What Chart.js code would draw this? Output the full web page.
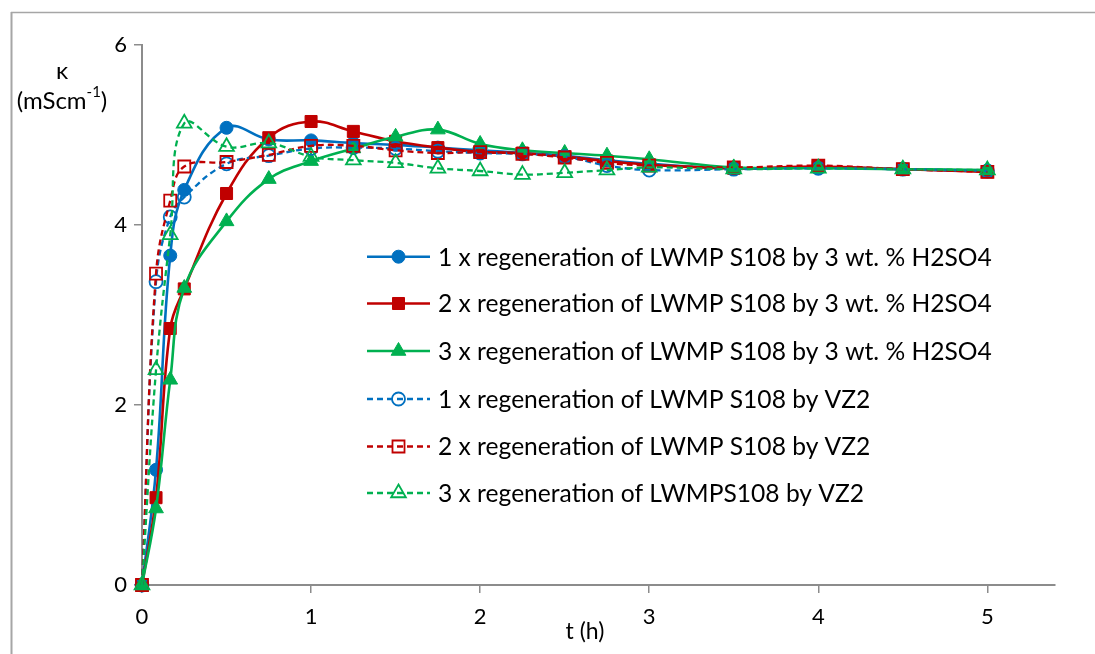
<!DOCTYPE html>
<html>
<head>
<meta charset="utf-8">
<script src="https://cdn.jsdelivr.net/npm/chart.js@4/dist/chart.umd.min.js"></script>
<style>
  html, body { margin: 0; padding: 0; background: #fff; }
  #wrap { position: relative; width: 1095px; height: 654px; }
</style>
</head>
<body>
<div id="wrap"><canvas id="c" width="1095" height="654"></canvas></div>
<script>
// ---- data ----
const times = [0, 0.083, 0.167, 0.25, 0.5, 0.75, 1, 1.25, 1.5, 1.75, 2, 2.25, 2.5, 2.75, 3, 3.5, 4, 4.5, 5];
const h2so4_1x = [0, 1.28, 3.66, 4.39, 5.08, 4.95, 4.94, 4.91, 4.89, 4.86, 4.83, 4.80, 4.77, 4.72, 4.68, 4.63, 4.64, 4.62, 4.60];
const h2so4_2x = [0, 0.97, 2.85, 3.29, 4.35, 4.97, 5.15, 5.04, 4.93, 4.86, 4.81, 4.80, 4.76, 4.71, 4.67, 4.63, 4.65, 4.62, 4.59];
const h2so4_3x = [0, 0.85, 2.28, 3.30, 4.04, 4.51, 4.71, 4.85, 4.98, 5.06, 4.90, 4.83, 4.80, 4.77, 4.73, 4.64, 4.63, 4.62, 4.61];
const vz2_1x   = [0, 3.37, 4.09, 4.31, 4.68, 4.77, 4.85, 4.86, 4.85, 4.82, 4.80, 4.79, 4.76, 4.66, 4.61, 4.62, 4.63, 4.62, 4.60];
const vz2_2x   = [0, 3.46, 4.27, 4.65, 4.70, 4.78, 4.88, 4.88, 4.83, 4.80, 4.81, 4.79, 4.75, 4.69, 4.66, 4.64, 4.66, 4.62, 4.59];
const vz2_3x   = [0, 2.39, 3.89, 5.13, 4.87, 4.91, 4.76, 4.72, 4.69, 4.63, 4.60, 4.56, 4.58, 4.61, 4.64, 4.62, 4.63, 4.62, 4.61];
const seriesNames = [
  '1 x regeneration of LWMP S108 by 3 wt. % H2SO4',
  '2 x regeneration of LWMP S108 by 3 wt. % H2SO4',
  '3 x regeneration of LWMP S108 by 3 wt. % H2SO4',
  '1 x regeneration of LWMP S108 by VZ2',
  '2 x regeneration of LWMP S108 by VZ2',
  '3 x regeneration of LWMPS108 by VZ2'
];
const xTicks = [0, 1, 2, 3, 4, 5];
const yTicks = [0, 2, 4, 6];
const xTitle = 't (h)';
const yTitleTop = 'κ';
const yTitleMain = '(mScm';
const yTitleSup = '-1';
const yTitleEnd = ')';

// ---- styles ----
const BLUE = '#0070C0', RED = '#C00000', GREEN = '#00B050';
const FONT = 'Lato, "Open Sans", sans-serif';
const styles = [
  {color: BLUE,  shape: 'circle',   filled: true,  dash: []},
  {color: RED,   shape: 'rect',     filled: true,  dash: []},
  {color: GREEN, shape: 'triangle', filled: true,  dash: []},
  {color: BLUE,  shape: 'circle',   filled: false, dash: [6, 4]},
  {color: RED,   shape: 'rect',     filled: false, dash: [6, 4]},
  {color: GREEN, shape: 'triangle', filled: false, dash: [6, 4]}
];
const radiusFor = s => s === 'circle' ? 6.5 : (s === 'rect' ? 8.5 : 8.5);
const allSeries = [h2so4_1x, h2so4_2x, h2so4_3x, vz2_1x, vz2_2x, vz2_3x];

const datasets = allSeries.map((vals, i) => {
  const st = styles[i];
  return {
    label: seriesNames[i],
    data: times.map((t, k) => ({x: t, y: vals[k]})),
    borderColor: st.color,
    backgroundColor: st.color,
    borderWidth: st.filled ? 2.6 : 2.3,
    borderDash: st.dash,
    tension: 0.4,
    pointStyle: st.shape,
    pointRadius: radiusFor(st.shape),
    pointBorderWidth: st.filled ? 1 : 1.8,
    pointBackgroundColor: st.filled ? st.color : 'rgba(255,255,255,0)',
    pointBorderColor: st.color,
    clip: false,
    order: 6 - i
  };
});

function drawMarker(ctx, shape, x, y, r, color, filled) {
  ctx.save();
  ctx.setLineDash([]);
  ctx.beginPath();
  if (shape === 'circle') {
    ctx.arc(x, y, r, 0, Math.PI * 2);
  } else if (shape === 'rect') {
    const s = r * Math.SQRT1_2;
    ctx.rect(x - s, y - s, 2 * s, 2 * s);
  } else {
    ctx.moveTo(x, y - r);
    ctx.lineTo(x + r * Math.sin(2 * Math.PI / 3), y - r * Math.cos(2 * Math.PI / 3));
    ctx.lineTo(x + r * Math.sin(4 * Math.PI / 3), y - r * Math.cos(4 * Math.PI / 3));
    ctx.closePath();
  }
  ctx.strokeStyle = color;
  if (filled) { ctx.fillStyle = color; ctx.fill(); ctx.lineWidth = 1; }
  else { ctx.lineWidth = 1.8; }
  ctx.stroke();
  ctx.restore();
}

const decorPlugin = {
  id: 'decor',
  beforeDraw(chart) {
    const ctx = chart.ctx;
    ctx.save();
    ctx.fillStyle = '#fff';
    ctx.fillRect(0, 0, chart.width, chart.height);
    ctx.strokeStyle = '#a6a6a6';
    ctx.lineWidth = 2;
    ctx.beginPath();
    ctx.moveTo(11.5, 12); ctx.lineTo(11.5, 654);
    ctx.stroke();
    ctx.lineWidth = 1.5;
    ctx.beginPath();
    ctx.moveTo(11, 12.5); ctx.lineTo(1095, 12.5);
    ctx.stroke();
    ctx.restore();
  },
  afterDraw(chart) {
    const ctx = chart.ctx;
    ctx.save();
    ctx.fillStyle = '#000';
    ctx.textBaseline = 'middle';
    // y title
    ctx.font = '24px ' + FONT;
    ctx.textAlign = 'center';
    ctx.fillText(yTitleTop, 62, 71);
    const wMain = ctx.measureText(yTitleMain).width;
    ctx.font = '15px ' + FONT;
    const wSup = ctx.measureText(yTitleSup).width;
    ctx.font = '24px ' + FONT;
    const wEnd = ctx.measureText(yTitleEnd).width;
    const total = wMain + wSup + wEnd;
    let x0 = 62 - total / 2;
    ctx.textAlign = 'left';
    ctx.fillText(yTitleMain, x0, 101);
    ctx.font = '15px ' + FONT;
    ctx.fillText(yTitleSup, x0 + wMain, 92);
    ctx.font = '24px ' + FONT;
    ctx.fillText(yTitleEnd, x0 + wMain + wSup, 101);
    // x title
    ctx.textAlign = 'center';
    ctx.font = '23px ' + FONT;
    ctx.fillText(xTitle, 585, 632);
    // legend
    const rows = [256.7, 303.5, 351, 399, 446.5, 493];
    for (let i = 0; i < styles.length; i++) {
      const st = styles[i];
      const y = rows[i];
      ctx.save();
      ctx.strokeStyle = st.color;
      ctx.lineWidth = st.filled ? 2.6 : 2.3;
      ctx.setLineDash(st.dash.length ? [6, 4] : []);
      ctx.beginPath();
      ctx.moveTo(367, y); ctx.lineTo(430, y);
      ctx.stroke();
      ctx.restore();
      drawMarker(ctx, st.shape, 398.5, y, radiusFor(st.shape), st.color, st.filled);
      ctx.fillStyle = '#000';
      ctx.font = '24.6px ' + FONT;
      ctx.textAlign = 'left';
      ctx.fillText(seriesNames[i], 438, y + 1);
    }
    ctx.restore();
  }
};

new Chart(document.getElementById('c'), {
  type: 'line',
  data: { datasets },
  options: {
    responsive: false,
    animation: false,
    layout: { padding: { top: 45, right: 40, left: 0, bottom: 0 }, autoPadding: false },
    plugins: { legend: { display: false }, tooltip: { enabled: false } },
    scales: {
      x: {
        type: 'linear',
        min: 0, max: 5.4,
        afterBuildTicks: s => { s.ticks = xTicks.map(v => ({value: v})); },
        afterFit: s => { s.height = 69; },
        grid: { drawOnChartArea: false, drawTicks: true, tickLength: 8, color: '#8c8c8c', lineWidth: 1.5 },
        border: { color: '#8c8c8c', width: 2 },
        ticks: { color: '#000', font: { family: FONT, size: 22 }, padding: 11, maxRotation: 0 }
      },
      y: {
        type: 'linear',
        min: 0, max: 6,
        afterBuildTicks: s => { s.ticks = yTicks.map(v => ({value: v})); },
        afterFit: s => { s.width = 142; },
        grid: { drawOnChartArea: false, drawTicks: true, tickLength: 8, color: '#8c8c8c', lineWidth: 1.5 },
        border: { color: '#8c8c8c', width: 2 },
        ticks: { color: '#000', font: { family: FONT, size: 22 }, padding: 7 }
      }
    }
  },
  plugins: [decorPlugin]
});
</script>
</body>
</html>
